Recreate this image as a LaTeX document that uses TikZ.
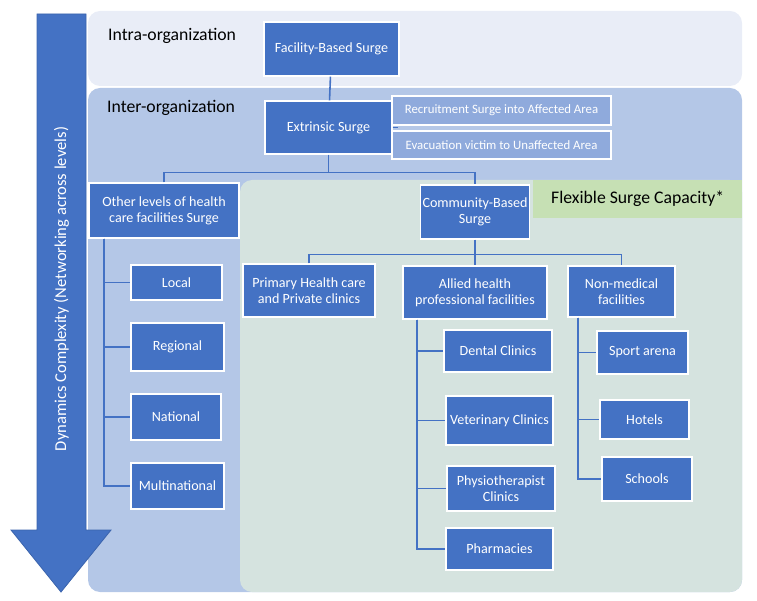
\documentclass[tikz,border=0pt]{standalone}
\usepackage{fontspec}
\setmainfont{Carlito}
\usepackage{xcolor}
\usepackage{tikz}
\usetikzlibrary{positioning,calc}
\definecolor{boxblue}{HTML}{4472C4}
\definecolor{midblue}{HTML}{8FAADC}
\definecolor{interblue}{HTML}{B4C7E7}
\definecolor{intrablue}{HTML}{E9EDF7}
\definecolor{flexpanel}{HTML}{D5E3DF}
\definecolor{flexgreen}{HTML}{C6E0B4}
\definecolor{arrowedge}{HTML}{3B64AD}
\newcommand{\boxfont}{\fontsize{14.1}{16.2}\selectfont}
\newcommand{\levelfont}{\fontsize{17.7}{20}\selectfont}

\begin{document}
\begin{tikzpicture}[x=1pt, y=-1pt,
    surge/.style={draw=white, line width=1.2pt, fill=boxblue, text=white, align=center, inner sep=2pt, font=\boxfont},
    subsurge/.style={surge, fill=midblue, font=\fontsize{12.8}{14}\selectfont},
    route/.style={draw=boxblue, line width=1.6pt}]
  \useasboundingbox (0,0) rectangle (757,601);

  % panels
  \fill[intrablue, rounded corners=12] (88,11) rectangle (742,86);
  \fill[interblue, rounded corners=12] (88,88) rectangle (742,592);
  \fill[flexpanel, rounded corners=12] (240,180) rectangle (742,592);
  \node[fill=flexgreen, anchor=north west, minimum width=209, minimum height=38, inner sep=0pt, font=\levelfont] (flex) at (533,180) {Flexible Surge Capacity*};
  \node[anchor=west, font=\levelfont, inner sep=0pt] (intra) at (108,36) {Intra-organization};
  \node[anchor=west, font=\levelfont, inner sep=0pt] (inter) at (107,108) {Inter-organization};

  % complexity arrow
  \fill[boxblue, draw=arrowedge, line width=0.8pt] (37,14) -- (86,14) -- (86,530) -- (111,530) -- (61,592) -- (11,530) -- (37,530) -- cycle;
  \node[rotate=90, text=white, font=\fontsize{16.6}{19}\selectfont] (dyn) at (61.5,289) {Dynamics Complexity (Networking across levels)};

  % surge levels
  \node[surge, minimum width=135, minimum height=54] (facility) at (331.5,49) {Facility-Based Surge};
  \node[surge, minimum width=127, minimum height=53] (extrinsic) at (328.5,127.5) {Extrinsic Surge};
  \node[subsurge, minimum width=219, minimum height=29] (recruit) at (501.5,110.5) {Recruitment Surge into Affected Area};
  \node[subsurge, minimum width=219, minimum height=28] (evac) at (501.5,145) {Evacuation victim to Unaffected Area};
  \node[surge, minimum width=150, minimum height=55] (other) at (164,210.5) {Other levels of health\\care facilities Surge};
  \node[surge, minimum width=108, minimum height=54] (community) at (475,212) {Community-Based\\Surge};

  % community branches
  \node[surge, minimum width=132, minimum height=53] (primary) at (309,290.5) {Primary Health care\\and Private clinics};
  \node[surge, minimum width=144, minimum height=53] (allied) at (475,292.5) {Allied health\\professional facilities};
  \node[surge, minimum width=107, minimum height=51] (nonmed) at (621.5,291.5) {Non-medical\\facilities};

  % other levels
  \node[surge, minimum width=91, minimum height=35] (local) at (176.5,282.5) {Local};
  \node[surge, minimum width=93, minimum height=48] (regional) at (177.5,347) {Regional};
  \node[surge, minimum width=90, minimum height=46] (national) at (176,417) {National};
  \node[surge, minimum width=93, minimum height=46] (multinational) at (177.5,486) {Multinational};

  % allied health
  \node[surge, minimum width=108, minimum height=42] (dental) at (498,351) {Dental Clinics};
  \node[surge, minimum width=107, minimum height=49] (veterinary) at (499.5,420.5) {Veterinary Clinics};
  \node[surge, minimum width=108, minimum height=45] (physio) at (501,488.5) {Physiotherapist\\Clinics};
  \node[surge, minimum width=107, minimum height=42] (pharmacies) at (499.5,549) {Pharmacies};

  % non-medical
  \node[surge, minimum width=91, minimum height=43] (sport) at (642.5,352.5) {Sport arena};
  \node[surge, minimum width=89, minimum height=39] (hotels) at (644.5,419.5) {Hotels};
  \node[surge, minimum width=90, minimum height=44] (schools) at (647,479) {Schools};

  % connectors
  \draw[route] (facility) -- (extrinsic);
  \draw[route] (extrinsic.east) -- ++(5,0);
  \draw[route] (extrinsic.south) -- ++(0,18) coordinate (exfork);
  \draw[route] (other.north) |- (exfork) -| (community.north);
  \draw[route] (community.south) -- ++(0,15) coordinate (cbfork);
  \draw[route] (primary.north) |- (cbfork) -| (nonmed.north);
  \draw[route] (cbfork) -- (allied.north);

  \coordinate (otrunk) at ([xshift=-60]other.south);
  \foreach \n in {local,regional,national,multinational}
    \draw[route] (otrunk) |- (\n.west);
  \coordinate (atrunk) at ([xshift=-58]allied.south);
  \foreach \n in {dental,veterinary,physio,pharmacies}
    \draw[route] (atrunk) |- (\n.west);
  \coordinate (ntrunk) at ([xshift=-43.5]nonmed.south);
  \foreach \n in {sport,hotels,schools}
    \draw[route] (ntrunk) |- (\n.west);
\end{tikzpicture}
\end{document}
